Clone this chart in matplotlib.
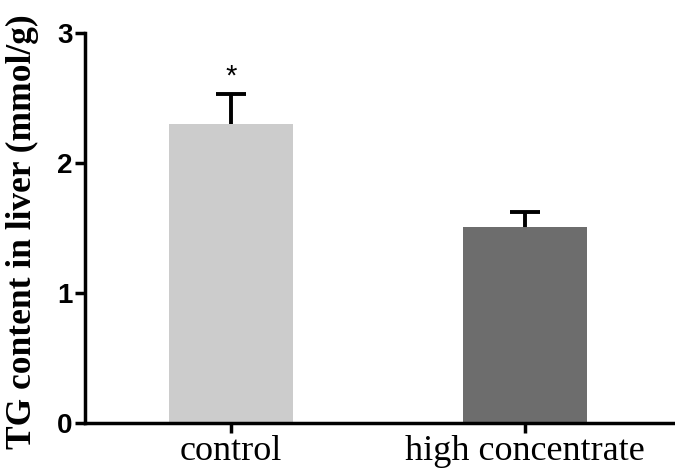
import matplotlib.pyplot as plt

# data
groups = ["control", "high concentrate"]
tg_mean = [2.30, 1.51]
tg_sem = [0.23, 0.11]
bar_colors = ["#cccccc", "#6d6d6d"]

fig = plt.figure(figsize=(6.75, 4.73), dpi=100)
ax = fig.add_axes([0.126, 0.106, 0.874, 0.824])

x = list(range(len(groups)))
ax.bar(x, tg_mean, width=0.42, color=bar_colors, zorder=2)

# upper error bars only (stem + cap)
tops = [m + s for m, s in zip(tg_mean, tg_sem)]
ax.vlines(x, tg_mean, tops, color="black", linewidth=2.8, zorder=3)
ax.hlines(tops, [i - 0.05 for i in x], [i + 0.05 for i in x],
          color="black", linewidth=2.8, zorder=3)

# significance mark
ax.text(x[0], tops[0] + 0.03, "*", ha="center", va="bottom",
        fontsize=21, family="Liberation Sans")

ax.set_xlim(-0.497, 1.51)
ax.set_ylim(0, 3)
ax.set_yticks([0, 1, 2, 3])
ax.set_xticks(x)
ax.set_xticklabels(groups, fontsize=26, family="Liberation Serif")
for lab in ax.get_yticklabels():
    lab.set_fontsize(20)
    lab.set_fontweight("bold")
    lab.set_family("Liberation Sans")

ax.set_ylabel("TG content in liver (mmol/g)", fontsize=25.5, fontweight="bold",
              family="Liberation Serif")
ax.yaxis.set_label_coords(-0.078, 0.49)

for side in ["top", "right"]:
    ax.spines[side].set_visible(False)
ax.spines["left"].set_linewidth(2.5)
ax.spines["bottom"].set_linewidth(2.5)
ax.tick_params(axis="both", width=2.5, length=7, direction="out")
ax.tick_params(axis="x", pad=2)
ax.tick_params(axis="y", pad=2)

plt.savefig("out.png", dpi=100)
